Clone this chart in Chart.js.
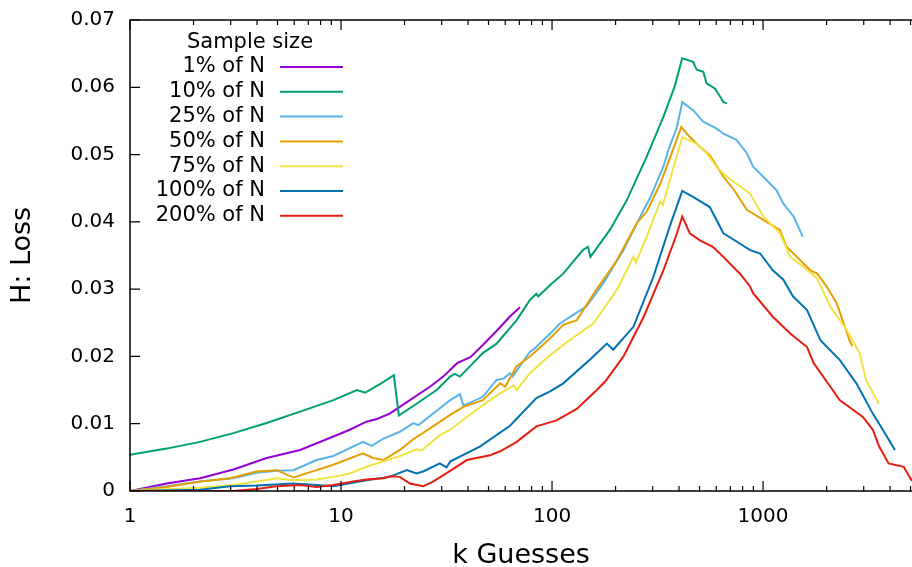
<!DOCTYPE html>
<html lang="en">
<head>
    <meta charset="UTF-8">
    <title>H: Loss vs k Guesses</title>
    <script src="https://cdn.jsdelivr.net/npm/chart.js"></script>
</head>
<body style="margin:0; background:#fff;">
    <canvas id="myChart" width="912" height="567"></canvas>

    <script>
        // k guesses (x) and loss (y) for each sample size
        const k1 = [1, 1.49, 2.15, 3.09, 4.44, 6.4, 9.2, 11, 13.2, 14.8, 17, 19, 21.2, 26.4, 30.5, 35.5, 41, 47, 55, 63, 70.5];
        const h1 = [0, 0.0011, 0.0019, 0.0032, 0.0049, 0.0061, 0.0081, 0.0091, 0.0103, 0.0107, 0.0115, 0.0125, 0.0135, 0.0155, 0.0170, 0.0190, 0.0199, 0.0217, 0.0239, 0.0259, 0.0273];

        const k10 = [1, 1.49, 2.15, 3.09, 4.44, 6.4, 9.2, 11.9, 13.0, 15.5, 17.8, 18.8, 22.9, 28.4, 32.9, 34.6, 36.6, 47, 54.6, 68, 78.6, 84.3, 86, 98, 113, 140, 148, 152, 188, 226, 281, 337, 381, 414, 466, 485, 521, 540, 593, 626, 649, 673];
        const h10 = [0.0054, 0.0063, 0.0073, 0.0086, 0.0101, 0.0118, 0.0135, 0.0150, 0.0146, 0.0160, 0.0172, 0.0112, 0.0130, 0.0150, 0.0170, 0.0174, 0.0170, 0.0205, 0.0219, 0.0254, 0.0284, 0.0293, 0.0289, 0.0306, 0.0323, 0.0358, 0.0363, 0.0348, 0.0388, 0.0432, 0.0497, 0.0556, 0.0601, 0.0643, 0.0638, 0.0626, 0.0623, 0.0606, 0.0598, 0.0586, 0.0578, 0.0576];

        const k25 = [1, 1.49, 2.15, 3.09, 3.98, 4.95, 5.95, 7.66, 9.2, 12.7, 14.0, 15.9, 19, 22.0, 23.3, 29.4, 32.9, 36.6, 38, 47, 54.6, 58.9, 63.2, 65, 78.6, 81.5, 98, 109, 145, 175, 218, 272, 291, 337, 356, 391, 414, 466, 521, 600, 649, 748, 838, 897, 1002, 1159, 1248, 1396, 1541];
        const h25 = [0, 0.0007, 0.0014, 0.0019, 0.0027, 0.0030, 0.0031, 0.0046, 0.0052, 0.0073, 0.0067, 0.0078, 0.0088, 0.0101, 0.0098, 0.0123, 0.0135, 0.0144, 0.0127, 0.0140, 0.0165, 0.0167, 0.0175, 0.0170, 0.0207, 0.0210, 0.0234, 0.0249, 0.0274, 0.0309, 0.0358, 0.0418, 0.0435, 0.0482, 0.0507, 0.0541, 0.0578, 0.0566, 0.0549, 0.0539, 0.0531, 0.0522, 0.0502, 0.0482, 0.0467, 0.0447, 0.0427, 0.0408, 0.0378];

        const k50 = [1, 1.49, 2.15, 2.98, 3.98, 4.95, 5.95, 7.66, 9.2, 12.7, 14.2, 15.9, 19, 22, 27.3, 32.9, 38, 47, 56.8, 60, 67.8, 78.6, 98, 113, 131, 162, 203, 252, 281, 326, 377, 410, 450, 500, 559, 649, 730, 838, 1002, 1202, 1292, 1446, 1674, 1805, 2003, 2234, 2570, 2650];
        const h50 = [0, 0.0006, 0.0014, 0.0019, 0.0029, 0.0031, 0.0020, 0.0031, 0.0039, 0.0056, 0.0049, 0.0046, 0.0061, 0.0077, 0.0096, 0.0113, 0.0125, 0.0135, 0.0160, 0.0155, 0.0185, 0.0200, 0.0227, 0.0247, 0.0254, 0.0299, 0.0343, 0.0398, 0.0415, 0.0457, 0.0510, 0.0541, 0.0526, 0.0512, 0.0499, 0.0467, 0.0447, 0.0418, 0.0403, 0.0388, 0.0363, 0.0348, 0.0328, 0.0323, 0.0304, 0.0279, 0.0224, 0.0215];

        const k75 = [1, 2.15, 3.09, 3.98, 4.95, 5.95, 7.66, 9.2, 11, 13.2, 15.9, 19, 22.8, 24, 29.4, 32.9, 39.5, 50.8, 56.8, 65.7, 68, 78.6, 98, 121, 157, 203, 243, 250, 281, 326, 335, 377, 414, 485, 540, 600, 673, 868, 1002, 1202, 1346, 1558, 1804, 2085, 2497, 2866, 3079, 3532];
        const h75 = [0, 0.0005, 0.0009, 0.0014, 0.0019, 0.0016, 0.0017, 0.0021, 0.0026, 0.0036, 0.0044, 0.0052, 0.0062, 0.0060, 0.0083, 0.0091, 0.0110, 0.0135, 0.0145, 0.0157, 0.0150, 0.0175, 0.0202, 0.0224, 0.0249, 0.0299, 0.0348, 0.0340, 0.0378, 0.0430, 0.0425, 0.0482, 0.0526, 0.0516, 0.0502, 0.0482, 0.0467, 0.0442, 0.0408, 0.0383, 0.0348, 0.0333, 0.0316, 0.0274, 0.0239, 0.0205, 0.0165, 0.0130];

        const k100 = [1, 2.15, 2.98, 3.98, 5.95, 7.66, 9.2, 13.2, 17, 20.5, 22.8, 24.5, 29.4, 31.6, 33, 45.5, 63.2, 84.3, 98, 113, 151, 182, 195, 243, 302, 361, 414, 466, 559, 649, 730, 868, 969, 1112, 1248, 1389, 1616, 1870, 2306, 2768, 3312, 3695, 4217];
        const h100 = [0, 0.0002, 0.0007, 0.0008, 0.0011, 0.0009, 0.0007, 0.0016, 0.0021, 0.0031, 0.0026, 0.0029, 0.0041, 0.0035, 0.0044, 0.0066, 0.0097, 0.0138, 0.0148, 0.0160, 0.0195, 0.0219, 0.0210, 0.0244, 0.0318, 0.0393, 0.0446, 0.0437, 0.0422, 0.0383, 0.0373, 0.0358, 0.0353, 0.0328, 0.0314, 0.0289, 0.0269, 0.0224, 0.0195, 0.0160, 0.0115, 0.0091, 0.0061];

        const k200 = [1, 3.09, 3.98, 4.95, 6.4, 7.66, 9.2, 11.4, 13.2, 15.9, 17, 19, 21.2, 24.5, 27.3, 32.9, 39.5, 50.8, 56.8, 68, 84.3, 105, 131, 163, 179, 218, 272, 337, 391, 414, 450, 500, 578, 649, 748, 778, 868, 897, 1112, 1346, 1616, 1738, 2085, 2306, 2974, 3312, 3551, 3937, 4638, 5080];
        const h200 = [0, 0, 0.0003, 0.0007, 0.0009, 0.0006, 0.0009, 0.0014, 0.0017, 0.0019, 0.0022, 0.0021, 0.0011, 0.0007, 0.0014, 0.0030, 0.0046, 0.0053, 0.0059, 0.0073, 0.0096, 0.0105, 0.0122, 0.0150, 0.0163, 0.0200, 0.0259, 0.0328, 0.0383, 0.0408, 0.0383, 0.0373, 0.0363, 0.0348, 0.0328, 0.0323, 0.0304, 0.0294, 0.0259, 0.0234, 0.0214, 0.0190, 0.0155, 0.0135, 0.0110, 0.0091, 0.0066, 0.0041, 0.0036, 0.0015];

        const seriesLabels = ['1% of N', '10% of N', '25% of N', '50% of N', '75% of N', '100% of N', '200% of N'];
        const seriesColors = ['#9400d3', '#009e73', '#56b4e9', '#e69f00', '#f0e442', '#0072b2', '#e51e10'];
        const seriesK = [k1, k10, k25, k50, k75, k100, k200];
        const seriesH = [h1, h10, h25, h50, h75, h100, h200];

        const legendTitle = 'Sample size';
        const xMajor = [1, 10, 100, 1000];
        const xMinor = [2, 3, 4, 5, 6, 7, 8, 9, 20, 30, 40, 50, 60, 70, 80, 90, 200, 300, 400, 500, 600, 700, 800, 900, 2000, 3000, 4000, 5000];
        const yTicks = [0, 0.01, 0.02, 0.03, 0.04, 0.05, 0.06, 0.07];

        const FONT = '"DejaVu Sans", sans-serif';

        const datasets = seriesLabels.map((label, i) => ({
            label: label,
            data: seriesK[i].map((k, j) => ({ x: k, y: seriesH[i][j] })),
            borderColor: seriesColors[i],
            borderWidth: 2,
            pointRadius: 0,
            tension: 0,
            fill: false,
            order: seriesLabels.length - i
        }));

        // gnuplot-like border, inward ticks and key
        const frame = {
            id: 'frame',
            beforeDraw(chart) {
                const ctx = chart.ctx;
                ctx.save();
                ctx.fillStyle = '#fff';
                ctx.fillRect(0, 0, chart.width, chart.height);
                ctx.restore();
            },
            afterDraw(chart) {
                const ctx = chart.ctx;
                const a = chart.chartArea;
                const xs = chart.scales.x, ys = chart.scales.y;
                ctx.save();
                ctx.strokeStyle = '#000';
                ctx.lineWidth = 1.5;
                ctx.beginPath();
                ctx.moveTo(a.right + 2, a.top);
                ctx.lineTo(a.left, a.top);
                ctx.lineTo(a.left, a.bottom);
                ctx.lineTo(a.right + 2, a.bottom);
                ctx.stroke();

                ctx.lineWidth = 1.2;
                ctx.beginPath();
                xMajor.forEach(v => {
                    const p = xs.getPixelForValue(v);
                    ctx.moveTo(p, a.bottom); ctx.lineTo(p, a.bottom - 10);
                    ctx.moveTo(p, a.top); ctx.lineTo(p, a.top + 10);
                });
                xMinor.forEach(v => {
                    const p = xs.getPixelForValue(v);
                    ctx.moveTo(p, a.bottom); ctx.lineTo(p, a.bottom - 5);
                    ctx.moveTo(p, a.top); ctx.lineTo(p, a.top + 5);
                });
                yTicks.forEach(v => {
                    const p = ys.getPixelForValue(v);
                    ctx.moveTo(a.left, p); ctx.lineTo(a.left + 10, p);
                });
                ctx.stroke();

                // key
                ctx.font = '21px ' + FONT;
                ctx.fillStyle = '#000';
                ctx.textBaseline = 'middle';
                ctx.textAlign = 'center';
                ctx.fillText(legendTitle, 250, 43);
                chart.data.datasets.forEach((ds, i) => {
                    const y = 67 + i * 24.8;
                    ctx.textAlign = 'right';
                    ctx.fillStyle = '#000';
                    ctx.fillText(ds.label, 265, y);
                    ctx.strokeStyle = ds.borderColor;
                    ctx.lineWidth = 2;
                    ctx.beginPath();
                    ctx.moveTo(280, y);
                    ctx.lineTo(343, y);
                    ctx.stroke();
                });
                ctx.restore();
            }
        };

        const config = {
            type: 'line',
            data: { datasets: datasets },
            options: {
                responsive: false,
                animation: false,
                devicePixelRatio: 1,
                layout: { padding: { top: 20, right: 0, bottom: 0, left: 0 } },
                plugins: {
                    legend: { display: false },
                    tooltip: { enabled: false }
                },
                scales: {
                    x: {
                        type: 'logarithmic',
                        min: 1,
                        max: 5080,
                        grid: { display: false, drawTicks: false },
                        border: { display: false },
                        afterBuildTicks: s => { s.ticks = xMajor.map(v => ({ value: v })); },
                        afterFit: s => { s.height = 76; s.paddingLeft = 0; s.paddingRight = 0; },
                        ticks: {
                            autoSkip: false,
                            maxRotation: 0,
                            padding: 14,
                            color: '#000',
                            font: { family: FONT, size: 20 },
                            callback: v => String(v)
                        },
                        title: {
                            display: true,
                            text: 'k Guesses',
                            color: '#000',
                            font: { family: FONT, size: 27, lineHeight: 0.85 },
                            padding: 0
                        }
                    },
                    y: {
                        min: 0,
                        max: 0.07,
                        grid: { display: false, drawTicks: false },
                        border: { display: false },
                        afterBuildTicks: s => { s.ticks = yTicks.map(v => ({ value: v })); },
                        afterFit: s => { s.width = 130; s.paddingTop = 0; s.paddingBottom = 0; },
                        ticks: {
                            padding: 15,
                            color: '#000',
                            font: { family: FONT, size: 20 },
                            callback: v => v === 0 ? '0' : v.toFixed(2)
                        },
                        title: {
                            display: true,
                            text: 'H: Loss',
                            color: '#000',
                            font: { family: FONT, size: 27, lineHeight: 0.85 },
                            padding: { top: 12, bottom: 0 }
                        }
                    }
                }
            },
            plugins: [frame]
        };

        const ctx = document.getElementById('myChart').getContext('2d');
        const myChart = new Chart(ctx, config);
    </script>
</body>
</html>
